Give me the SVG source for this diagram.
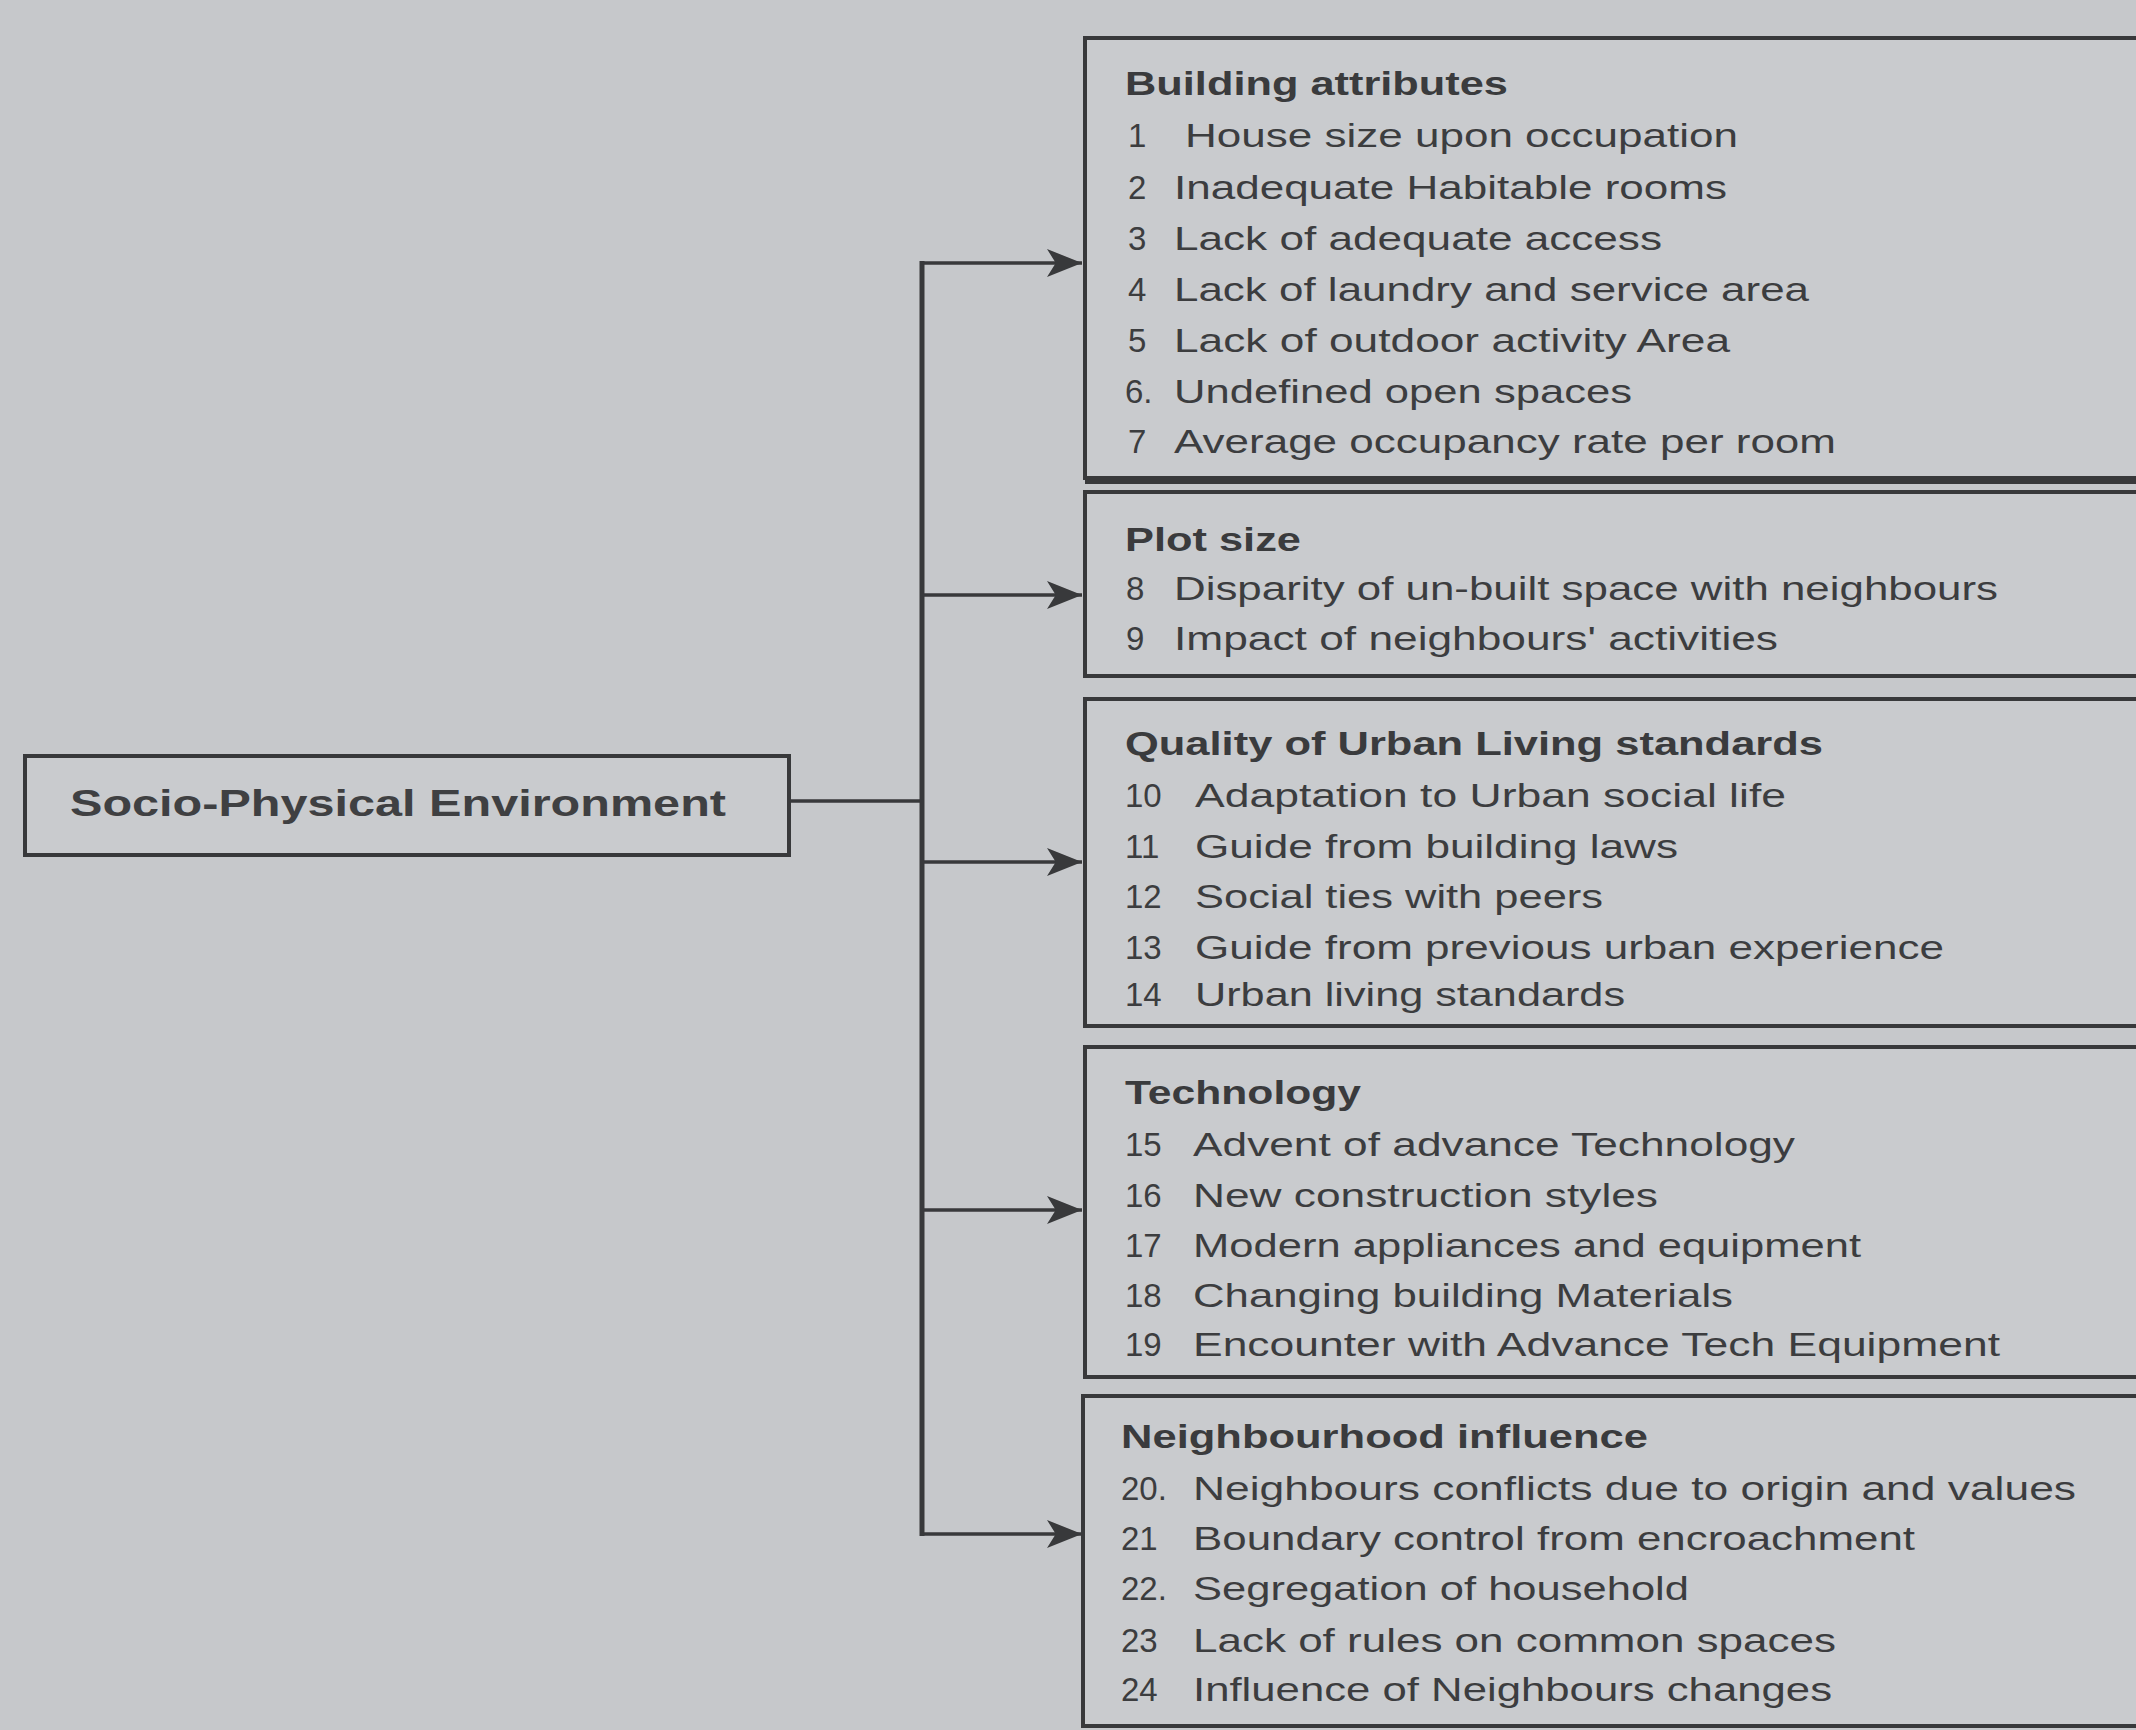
<svg xmlns="http://www.w3.org/2000/svg" width="2136" height="1730" viewBox="0 0 2136 1730">
<defs>
<marker id="ah" markerWidth="10" markerHeight="8" refX="10" refY="4" orient="auto" markerUnits="strokeWidth">
<path d="M0,0 L10,4 L0,8 L2.5,4 Z" fill="#38393b"/>
</marker>
</defs>
<style>
.bg{fill:#c6c8cb}
.box{fill:#c9cbce;stroke:#38393b;stroke-width:4}
.t{font-family:"Liberation Sans",Arial,sans-serif;font-size:33px;fill:#3c3d3f}
.h{font-family:"Liberation Sans",Arial,sans-serif;font-size:33px;font-weight:bold;fill:#3a3b3d}
.src{font-family:"Liberation Sans",Arial,sans-serif;font-size:37px;font-weight:bold;fill:#3f4042}
.ln{fill:none;stroke:#38393b;stroke-width:3.5}
.tr{fill:none;stroke:#38393b;stroke-width:5}
</style>
<rect class="bg" x="0" y="0" width="2136" height="1730"/>

<g id="connectors">
<line class="ln" x1="789" y1="801" x2="922" y2="801"/>
<line class="tr" x1="922" y1="261" x2="922" y2="1536"/>
<line class="ln" x1="922" y1="263" x2="1082" y2="263" marker-end="url(#ah)"/>
<line class="ln" x1="922" y1="595" x2="1082" y2="595" marker-end="url(#ah)"/>
<line class="ln" x1="922" y1="862" x2="1082" y2="862" marker-end="url(#ah)"/>
<line class="ln" x1="922" y1="1210" x2="1082" y2="1210" marker-end="url(#ah)"/>
<line class="ln" x1="922" y1="1534" x2="1082" y2="1534" marker-end="url(#ah)"/>
</g>

<g id="source">
<rect class="box" x="25" y="756" width="764" height="99"/>
<text class="src" x="70" y="816" textLength="656" lengthAdjust="spacingAndGlyphs">Socio-Physical Environment</text>
</g>

<g id="building">
<rect class="box" x="1085" y="38" width="1100" height="440"/>
<line x1="1085" y1="480" x2="2140" y2="480" stroke="#38393b" stroke-width="8"/>
<text class="h" x="1125" y="95" textLength="383" lengthAdjust="spacingAndGlyphs">Building attributes</text>
<text class="t" x="1128" y="147">1</text><text class="t" x="1185" y="147" textLength="553" lengthAdjust="spacingAndGlyphs">House size upon occupation</text>
<text class="t" x="1128" y="199">2</text><text class="t" x="1174" y="199" textLength="553" lengthAdjust="spacingAndGlyphs">Inadequate Habitable rooms</text>
<text class="t" x="1128" y="250">3</text><text class="t" x="1174" y="250" textLength="488" lengthAdjust="spacingAndGlyphs">Lack of adequate access</text>
<text class="t" x="1128" y="301">4</text><text class="t" x="1174" y="301" textLength="635" lengthAdjust="spacingAndGlyphs">Lack of laundry  and service area</text>
<text class="t" x="1128" y="352">5</text><text class="t" x="1174" y="352" textLength="556" lengthAdjust="spacingAndGlyphs">Lack of outdoor activity Area</text>
<text class="t" x="1125" y="403">6.</text><text class="t" x="1174" y="403" textLength="458" lengthAdjust="spacingAndGlyphs">Undefined open spaces</text>
<text class="t" x="1128" y="453">7</text><text class="t" x="1174" y="453" textLength="662" lengthAdjust="spacingAndGlyphs">Average occupancy rate per room</text>
</g>

<g id="plot">
<rect class="box" x="1085" y="492" width="1100" height="184"/>
<text class="h" x="1125" y="551" textLength="176" lengthAdjust="spacingAndGlyphs">Plot size</text>
<text class="t" x="1126" y="600">8</text><text class="t" x="1174" y="600" textLength="824" lengthAdjust="spacingAndGlyphs">Disparity of un-built  space with neighbours</text>
<text class="t" x="1126" y="650">9</text><text class="t" x="1174" y="650" textLength="604" lengthAdjust="spacingAndGlyphs">Impact of neighbours'  activities</text>
</g>

<g id="quality">
<rect class="box" x="1085" y="699" width="1100" height="327"/>
<text class="h" x="1125" y="755" textLength="698" lengthAdjust="spacingAndGlyphs">Quality of Urban Living standards</text>
<text class="t" x="1125" y="807">10</text><text class="t" x="1195" y="807" textLength="591" lengthAdjust="spacingAndGlyphs">Adaptation to Urban social life</text>
<text class="t" x="1125" y="858">11</text><text class="t" x="1195" y="858" textLength="483" lengthAdjust="spacingAndGlyphs">Guide from building laws</text>
<text class="t" x="1125" y="908">12</text><text class="t" x="1195" y="908" textLength="408" lengthAdjust="spacingAndGlyphs">Social ties with peers</text>
<text class="t" x="1125" y="959">13</text><text class="t" x="1195" y="959" textLength="749" lengthAdjust="spacingAndGlyphs">Guide from previous urban  experience</text>
<text class="t" x="1125" y="1006">14</text><text class="t" x="1195" y="1006" textLength="430" lengthAdjust="spacingAndGlyphs">Urban living standards</text>
</g>

<g id="technology">
<rect class="box" x="1085" y="1047" width="1100" height="330"/>
<text class="h" x="1125" y="1104" textLength="236" lengthAdjust="spacingAndGlyphs">Technology</text>
<text class="t" x="1125" y="1156">15</text><text class="t" x="1193" y="1156" textLength="602" lengthAdjust="spacingAndGlyphs">Advent of advance Technology</text>
<text class="t" x="1125" y="1207">16</text><text class="t" x="1193" y="1207" textLength="465" lengthAdjust="spacingAndGlyphs">New construction styles</text>
<text class="t" x="1125" y="1257">17</text><text class="t" x="1193" y="1257" textLength="668" lengthAdjust="spacingAndGlyphs">Modern appliances and equipment</text>
<text class="t" x="1125" y="1307">18</text><text class="t" x="1193" y="1307" textLength="540" lengthAdjust="spacingAndGlyphs">Changing building Materials</text>
<text class="t" x="1125" y="1356">19</text><text class="t" x="1193" y="1356" textLength="807" lengthAdjust="spacingAndGlyphs">Encounter with Advance Tech Equipment</text>
</g>

<g id="neighbourhood">
<rect class="box" x="1083" y="1396" width="1100" height="330"/>
<text class="h" x="1121" y="1448" textLength="527" lengthAdjust="spacingAndGlyphs">Neighbourhood influence</text>
<text class="t" x="1121" y="1500">20.</text><text class="t" x="1193" y="1500" textLength="883" lengthAdjust="spacingAndGlyphs">Neighbours conflicts due to origin and values</text>
<text class="t" x="1121" y="1550">21</text><text class="t" x="1193" y="1550" textLength="722" lengthAdjust="spacingAndGlyphs">Boundary control from encroachment</text>
<text class="t" x="1121" y="1600">22.</text><text class="t" x="1193" y="1600" textLength="496" lengthAdjust="spacingAndGlyphs">Segregation of household</text>
<text class="t" x="1121" y="1652">23</text><text class="t" x="1193" y="1652" textLength="643" lengthAdjust="spacingAndGlyphs">Lack of rules on common spaces</text>
<text class="t" x="1121" y="1701">24</text><text class="t" x="1193" y="1701" textLength="639" lengthAdjust="spacingAndGlyphs">Influence of Neighbours changes</text>
</g>
</svg>
